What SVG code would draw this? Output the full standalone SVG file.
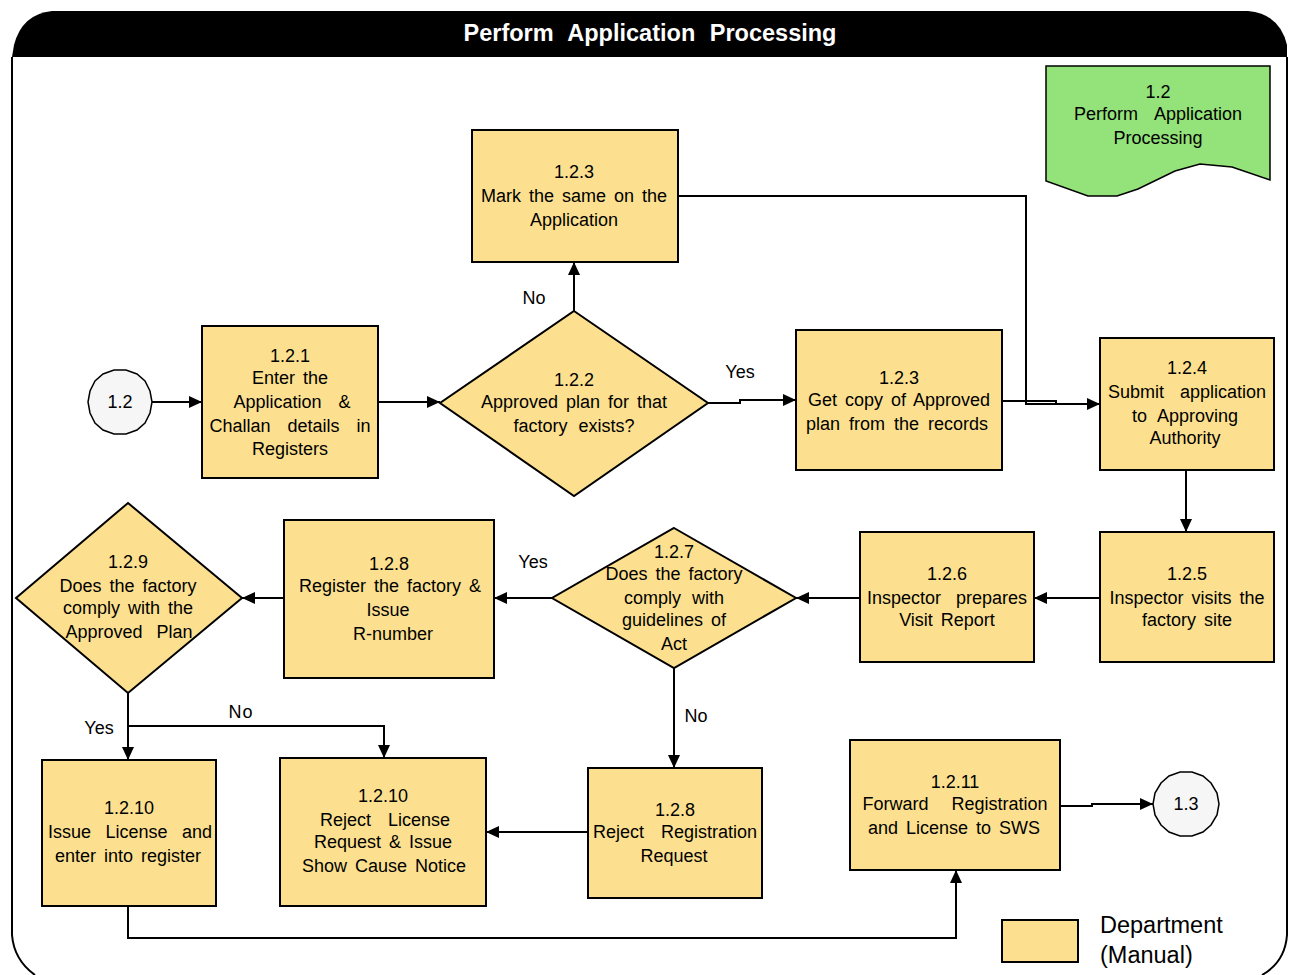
<svg xmlns="http://www.w3.org/2000/svg" width="1289" height="975" viewBox="0 0 1289 975">
  <defs>
    <marker id="arrow" markerWidth="14" markerHeight="12" refX="13" refY="6" orient="auto" markerUnits="userSpaceOnUse">
      <path d="M0,0 L13,6 L0,12 Z" fill="#000"/>
    </marker>
    <style>
      .proc { fill: #FDE08F; stroke: #000; stroke-width: 2; }
      .term { fill: #F6F6F6; stroke: #000; stroke-width: 1.5; }
      .doc { fill: #93E27A; stroke: #000; stroke-width: 1.5; }
      .lbl { font-family: "Liberation Sans", Arial, sans-serif; font-size: 18px; fill: #000; text-anchor: middle; dominant-baseline: central; word-spacing: 3px; }
      .edge { fill: none; stroke: #000; stroke-width: 2; }
      .elbl { font-family: "Liberation Sans", Arial, sans-serif; font-size: 18px; fill: #000; text-anchor: middle; dominant-baseline: central; }
    </style>
  </defs>

  <rect x="0" y="0" width="1289" height="975" fill="#fff"/>

  <!-- swimlane frame with header bar -->
  <g id="frame">
    <path d="M12,57 L12,935 Q14,960 35,975 M1287,57 L1287,935 Q1285,962 1262,975" fill="none" stroke="#000" stroke-width="2"/>
    <path d="M12,57 L14,45 Q22,14 52,11 L1248,11 Q1280,14 1287,45 L1287,57 Z" fill="#000"/>
    <text x="650" y="33" font-family="Liberation Sans, Arial, sans-serif" font-size="23.5" font-weight="bold" fill="#fff" text-anchor="middle" dominant-baseline="central" word-spacing="8">Perform Application Processing</text>
  </g>

  <!-- connectors -->
  <g id="connectors">
    <path class="edge" d="M152,402 L202,402" marker-end="url(#arrow)"/>
    <path class="edge" d="M378,402 L440,402" marker-end="url(#arrow)"/>
    <path class="edge" d="M574,311 L574,262" marker-end="url(#arrow)"/>
    <path class="edge" d="M708,403 L740,403 L740,400 L796,400" marker-end="url(#arrow)"/>
    <path class="edge" d="M678,196 L1026,196 L1026,404 L1056,404" />
    <path class="edge" d="M1002,401 L1056,401 L1056,404 L1100,404" marker-end="url(#arrow)"/>
    <path class="edge" d="M1186,470 L1186,532" marker-end="url(#arrow)"/>
    <path class="edge" d="M1100,598 L1034,598" marker-end="url(#arrow)"/>
    <path class="edge" d="M860,598 L796,598" marker-end="url(#arrow)"/>
    <path class="edge" d="M552,598 L494,598" marker-end="url(#arrow)"/>
    <path class="edge" d="M674,668 L674,768" marker-end="url(#arrow)"/>
    <path class="edge" d="M284,598 L242,598" marker-end="url(#arrow)"/>
    <path class="edge" d="M128,693 L128,760" marker-end="url(#arrow)"/>
    <path class="edge" d="M128,726 L384,726 L384,758" marker-end="url(#arrow)"/>
    <path class="edge" d="M588,832 L486,832" marker-end="url(#arrow)"/>
    <path class="edge" d="M128,906 L128,938 L956,938 L956,870" marker-end="url(#arrow)"/>
    <path class="edge" d="M1060,806 L1092,806 L1092,804 L1153,804" marker-end="url(#arrow)"/>

    <text class="elbl" x="534" y="298">No</text>
    <text class="elbl" x="740" y="372">Yes</text>
    <text class="elbl" x="533" y="562">Yes</text>
    <text class="elbl" x="696" y="716">No</text>
    <text class="elbl" x="99" y="728">Yes</text>
    <text class="elbl" x="241" y="712" letter-spacing="1">No</text>
  </g>

  <g id="start-1-2">
    <polygon class="term" points="152,402 150,413 145,423 137,430 126,434 114,434 103,430 95,423 90,413 88,402 90,391 95,381 103,374 114,370 126,370 137,374 145,381 150,391"/>
    <text class="lbl" x="120" y="402">1.2</text>
  </g>

  <g id="doc-1-2">
    <path class="doc" d="M1046,66 L1270,66 L1270,180 L1232,167 L1200,164 L1175,171 L1138,189 L1117,196 L1088,196 L1046,181 Z"/>
    <text class="lbl" x="1158" y="92">1.2</text>
    <text class="lbl" x="1158" y="114" style="word-spacing:12px">Perform Application</text>
    <text class="lbl" x="1158" y="138">Processing</text>
  </g>

  <g id="n-1-2-1">
    <rect class="proc" x="202" y="326" width="176" height="152"/>
    <text class="lbl" x="290" y="356">1.2.1</text>
    <text class="lbl" x="290" y="378">Enter the</text>
    <text class="lbl" x="292" y="402" style="word-spacing:12px">Application &amp;</text>
    <text class="lbl" x="290" y="426" style="word-spacing:12px">Challan details in</text>
    <text class="lbl" x="290" y="449">Registers</text>
  </g>

  <g id="n-1-2-2">
    <polygon class="proc" points="574,311 708,403 574,496 440,403"/>
    <text class="lbl" x="574" y="380">1.2.2</text>
    <text class="lbl" x="574" y="402">Approved plan for that</text>
    <text class="lbl" x="574" y="426" style="word-spacing:6px">factory exists?</text>
  </g>

  <g id="n-1-2-3-mark">
    <rect class="proc" x="472" y="130" width="206" height="132"/>
    <text class="lbl" x="574" y="172">1.2.3</text>
    <text class="lbl" x="574" y="196">Mark the same on the</text>
    <text class="lbl" x="574" y="220">Application</text>
  </g>

  <g id="n-1-2-3-copy">
    <rect class="proc" x="796" y="330" width="206" height="140"/>
    <text class="lbl" x="899" y="378">1.2.3</text>
    <text class="lbl" x="899" y="400">Get copy of Approved</text>
    <text class="lbl" x="897" y="424" style="word-spacing:4px">plan from the records</text>
  </g>

  <g id="n-1-2-4">
    <rect class="proc" x="1100" y="338" width="174" height="132"/>
    <text class="lbl" x="1187" y="368">1.2.4</text>
    <text class="lbl" x="1187" y="392" style="word-spacing:11px">Submit application</text>
    <text class="lbl" x="1185" y="416" style="word-spacing:6px">to Approving</text>
    <text class="lbl" x="1185" y="438">Authority</text>
  </g>

  <g id="n-1-2-5">
    <rect class="proc" x="1100" y="532" width="174" height="130"/>
    <text class="lbl" x="1187" y="574">1.2.5</text>
    <text class="lbl" x="1187" y="598">Inspector visits the</text>
    <text class="lbl" x="1187" y="620">factory site</text>
  </g>

  <g id="n-1-2-6">
    <rect class="proc" x="860" y="532" width="174" height="130"/>
    <text class="lbl" x="947" y="574">1.2.6</text>
    <text class="lbl" x="947" y="598" style="word-spacing:10px">Inspector prepares</text>
    <text class="lbl" x="947" y="620">Visit Report</text>
  </g>

  <g id="n-1-2-7">
    <polygon class="proc" points="674,528 796,598 674,668 552,598"/>
    <text class="lbl" x="674" y="552">1.2.7</text>
    <text class="lbl" x="674" y="574">Does the factory</text>
    <text class="lbl" x="674" y="598" style="word-spacing:6px">comply with</text>
    <text class="lbl" x="674" y="620">guidelines of</text>
    <text class="lbl" x="674" y="644">Act</text>
  </g>

  <g id="n-1-2-8-register">
    <rect class="proc" x="284" y="520" width="210" height="158"/>
    <text class="lbl" x="389" y="564">1.2.8</text>
    <text class="lbl" x="390" y="586">Register the factory &amp;</text>
    <text class="lbl" x="388" y="610">Issue</text>
    <text class="lbl" x="393" y="634">R-number</text>
  </g>

  <g id="n-1-2-9">
    <polygon class="proc" points="128,503 242,598 128,693 16,598"/>
    <text class="lbl" x="128" y="562">1.2.9</text>
    <text class="lbl" x="128" y="586">Does the factory</text>
    <text class="lbl" x="128" y="608">comply with the</text>
    <text class="lbl" x="129" y="632" style="word-spacing:9px">Approved Plan</text>
  </g>

  <g id="n-1-2-10-issue">
    <rect class="proc" x="42" y="760" width="174" height="146"/>
    <text class="lbl" x="129" y="808">1.2.10</text>
    <text class="lbl" x="130" y="832" style="word-spacing:9.5px">Issue License and</text>
    <text class="lbl" x="128" y="856">enter into register</text>
  </g>

  <g id="n-1-2-10-reject">
    <rect class="proc" x="280" y="758" width="206" height="148"/>
    <text class="lbl" x="383" y="796">1.2.10</text>
    <text class="lbl" x="385" y="820" style="word-spacing:12px">Reject License</text>
    <text class="lbl" x="383" y="842">Request &amp; Issue</text>
    <text class="lbl" x="384" y="866">Show Cause Notice</text>
  </g>

  <g id="n-1-2-8-reject">
    <rect class="proc" x="588" y="768" width="174" height="130"/>
    <text class="lbl" x="675" y="810">1.2.8</text>
    <text class="lbl" x="675" y="832" style="word-spacing:12px">Reject Registration</text>
    <text class="lbl" x="674" y="856">Request</text>
  </g>

  <g id="n-1-2-11">
    <rect class="proc" x="850" y="740" width="210" height="130"/>
    <text class="lbl" x="955" y="782">1.2.11</text>
    <text class="lbl" x="955" y="804" style="word-spacing:18px">Forward Registration</text>
    <text class="lbl" x="954" y="828">and License to SWS</text>
  </g>

  <g id="end-1-3">
    <polygon class="term" points="1219,804 1217,815 1211,825 1203,832 1192,836 1180,836 1169,832 1161,825 1155,815 1153,804 1155,793 1161,783 1169,776 1180,772 1192,772 1203,776 1211,783 1217,793"/>
    <text class="lbl" x="1186" y="804">1.3</text>
  </g>

  <g id="legend">
    <rect class="proc" x="1002" y="920" width="76" height="42"/>
    <text x="1100" y="925" font-family="Liberation Sans, Arial, sans-serif" font-size="23.5" dominant-baseline="central">Department</text>
    <text x="1100" y="955" font-family="Liberation Sans, Arial, sans-serif" font-size="23.5" dominant-baseline="central">(Manual)</text>
  </g>
</svg>
